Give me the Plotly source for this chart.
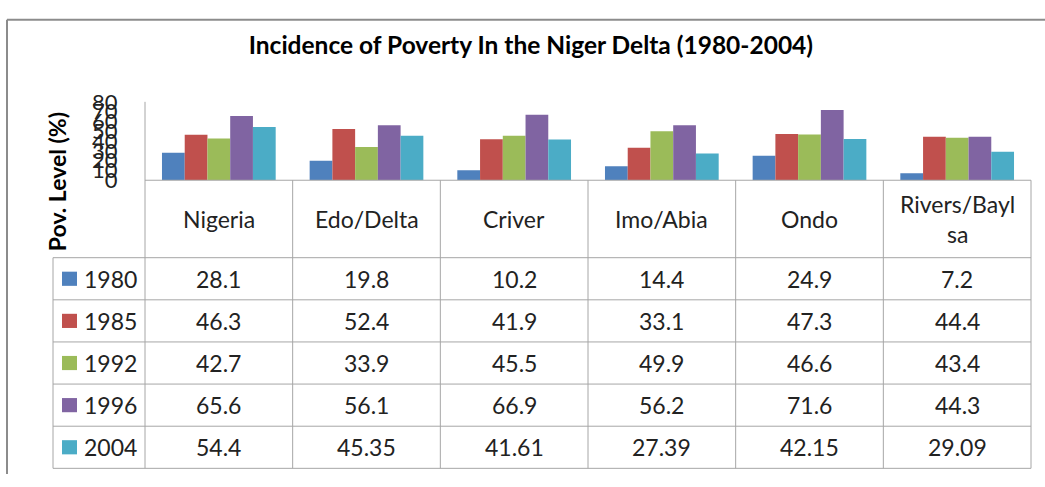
import plotly.graph_objects as go

W, H = 1045, 487

regions = ["Nigeria", "Edo/Delta", "Criver", "Imo/Abia", "Ondo", "Rivers/Bayl<br>sa"]
years = ["1980", "1985", "1992", "1996", "2004"]
v1980 = [28.1, 19.8, 10.2, 14.4, 24.9, 7.2]
v1985 = [46.3, 52.4, 41.9, 33.1, 47.3, 44.4]
v1992 = [42.7, 33.9, 45.5, 49.9, 46.6, 43.4]
v1996 = [65.6, 56.1, 66.9, 56.2, 71.6, 44.3]
v2004 = [54.4, 45.35, 41.61, 27.39, 42.15, 29.09]
series = [v1980, v1985, v1992, v1996, v2004]
colors = ["#4F81BD", "#C0504D", "#9BBB59", "#8064A2", "#4BACC6"]
yticks = [0, 10, 20, 30, 40, 50, 60, 70, 80]

FONT = "Lato"
GRID = "#a6a6a6"

def px(x):
    return x / W

def py(y):
    return 1 - y / H

fig = go.Figure()
for yr, vals, c in zip(years, series, colors):
    fig.add_trace(go.Bar(x=list(range(len(regions))), y=vals, name=yr,
                         marker=dict(color=c, line=dict(width=0))))

# table geometry (pixels)
left_plot, right_plot = 145, 1031
col_w = (right_plot - left_plot) / len(regions)
cols = [left_plot + i * col_w for i in range(len(regions) + 1)]
y_top, y_base, y_head = 93, 176, 258
row_h = (481 - y_head) / len(years)
rows = [y_head + i * row_h for i in range(len(years) + 1)]
leg_left = 53

shapes = []
def line(x0, y0, x1, y1, color=GRID, w=1):
    shapes.append(dict(type="line", xref="paper", yref="paper",
                       x0=px(x0), y0=py(y0), x1=px(x1), y1=py(y1),
                       line=dict(color=color, width=w)))

# outer border (left and top edges visible)
line(7, 6, 7, H, color="#8c8c8c", w=2)
line(7, 6, W, 6, color="#8c8c8c", w=2)
# axis baseline / header top
line(left_plot, y_base, right_plot, y_base)
# vertical column lines
line(left_plot, y_top, left_plot, rows[-1])
for x in cols[1:]:
    line(x, y_base, x, rows[-1])
# legend column left
line(leg_left, y_head, leg_left, rows[-1])
# horizontal row lines
for y in rows:
    line(leg_left, y, right_plot, y)

annotations = []
tf = dict(family=FONT, size=23, color="#222222")
# header labels
for i, r in enumerate(regions):
    annotations.append(dict(x=px((cols[i] + cols[i + 1]) / 2), y=py((y_base + y_head) / 2),
                            xref="paper", yref="paper", text=r, showarrow=False,
                            font=tf, xanchor="center", yanchor="middle"))
# data rows
for j, (yr, vals, c) in enumerate(zip(years, series, colors)):
    yc = (rows[j] + rows[j + 1]) / 2
    shapes.append(dict(type="rect", xref="paper", yref="paper",
                       x0=px(62), x1=px(77), y0=py(yc + 7.5), y1=py(yc - 7.5),
                       fillcolor=c, line=dict(width=0)))
    annotations.append(dict(x=px(82), y=py(yc), xref="paper", yref="paper",
                            text=yr, showarrow=False, font=tf,
                            xanchor="left", yanchor="middle"))
    for i, v in enumerate(vals):
        annotations.append(dict(x=px((cols[i] + cols[i + 1]) / 2), y=py(yc),
                                xref="paper", yref="paper", text=str(v),
                                showarrow=False, font=tf,
                                xanchor="center", yanchor="middle"))
# y axis title
annotations.append(dict(x=px(57), y=py(178), xref="paper", yref="paper",
                        text="<b>Pov. Level (%)</b>", textangle=-90, showarrow=False,
                        font=dict(family=FONT, size=23, color="#000000"),
                        xanchor="center", yanchor="middle"))

fig.update_layout(
    width=W, height=H,
    margin=dict(l=0, r=0, t=0, b=0),
    paper_bgcolor="white", plot_bgcolor="white",
    showlegend=False,
    bargap=0.23, bargroupgap=0,
    title=dict(text="<b>Incidence of Poverty In the Niger Delta (1980-2004)</b>",
               x=0.508, xanchor="center", y=py(45), yanchor="middle",
               font=dict(family=FONT, size=24.5, color="#000000")),
    xaxis=dict(domain=[px(left_plot), px(right_plot)], range=[-0.5, len(regions) - 0.5],
               showticklabels=False, showgrid=False, zeroline=False, showline=False),
    yaxis=dict(domain=[py(y_base), py(y_top)], range=[0, 80], tickmode="array",
               tickvals=yticks, ticktext=[str(t) for t in yticks],
               showgrid=False, zeroline=False, showline=False,
               ticks="outside", ticklen=0, ticklabelstandoff=22,
               tickfont=dict(family=FONT, size=22, color="#222222")),
    shapes=shapes, annotations=annotations,
)

fig.write_html("out.html", config={"displayModeBar": False},
               post_script="document.body.style.margin='0';document.body.style.overflow='hidden';")
